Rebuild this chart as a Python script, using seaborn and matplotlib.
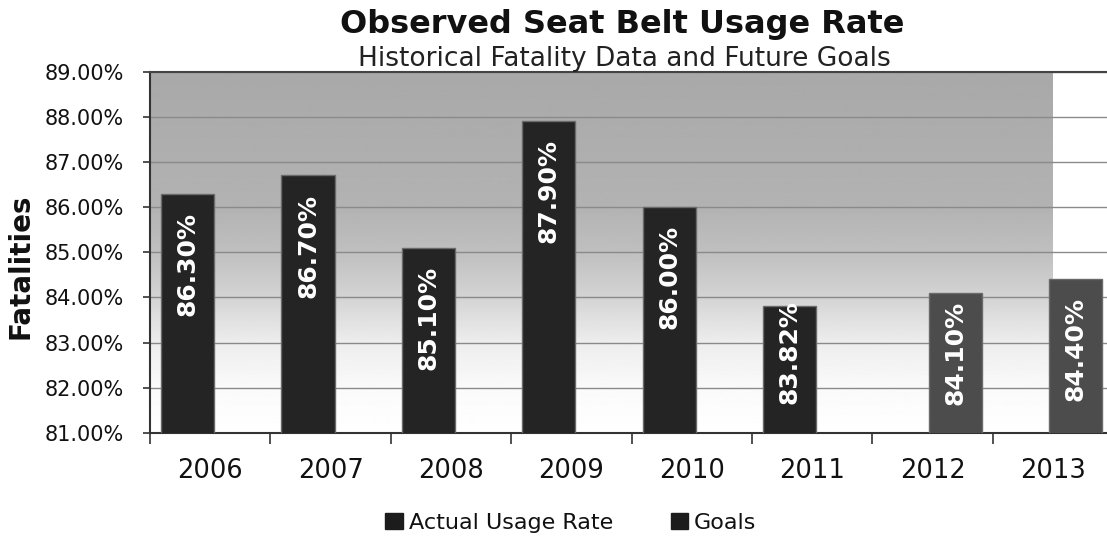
import numpy as np
import pandas as pd
import matplotlib
matplotlib.use("Agg")
import matplotlib.pyplot as plt
from matplotlib.ticker import FuncFormatter
import seaborn as sns

# Observed seat belt usage, historical values and future goals
years = ["2006", "2007", "2008", "2009", "2010", "2011", "2012", "2013"]
actual_rate = [86.30, 86.70, 85.10, 87.90, 86.00, 83.82, None, None]
goal_rate = [None, None, None, None, None, None, 84.10, 84.40]
series_names = ["Actual Usage Rate", "Goals"]

rows = []
for yr, a, g in zip(years, actual_rate, goal_rate):
    if a is not None:
        rows.append({"Year": yr, "Rate": a, "Series": series_names[0]})
    if g is not None:
        rows.append({"Year": yr, "Rate": g, "Series": series_names[1]})
df = pd.DataFrame(rows)

sns.set_theme(style="white")
plt.rcParams["font.family"] = ["DejaVu Sans"]

fig = plt.figure(figsize=(11.07, 5.46), dpi=100)
ax = fig.add_axes([0.1355, 0.207, 0.870, 0.662])

ymin, ymax = 81.0, 89.0

# grey-to-white vertical backdrop behind the bars
grad_y = np.linspace(ymin, ymax, 400)
grad_v = np.interp(grad_y, [81, 82, 83, 84, 85, 86, 89],
                   [1.00, 0.98, 0.93, 0.83, 0.75, 0.70, 0.66])
ax.imshow(grad_v[:, None], cmap="gray", vmin=0, vmax=1, aspect="auto",
          origin="lower", extent=(-0.5, 7.0, ymin, ymax), zorder=0,
          interpolation="bilinear")

sns.barplot(data=df, x="Year", y="Rate", hue="Series", order=years,
            hue_order=series_names,
            palette={series_names[0]: "#242424", series_names[1]: "#4c4c4c"},
            width=0.75, gap=-0.175, dodge=True, edgecolor="#6a6a6a",
            linewidth=1.0, ax=ax, zorder=3, saturation=1)

ax.set_xlim(-0.5, 7.5)
ax.set_ylim(ymin, ymax)
ax.set_yticks(np.arange(81, 90, 1))
ax.yaxis.set_major_formatter(FuncFormatter(lambda v, p: f"{v:.2f}%"))
ax.grid(axis="y", color="#8a8a8a", linewidth=1.0, zorder=1)
ax.set_axisbelow(True)

# value labels inside the bars
for cont, name in zip(ax.containers, series_names):
    for bar in cont:
        h = bar.get_height()
        if np.isnan(h) or h == 0:
            continue
        cx = bar.get_x() + bar.get_width() / 2
        top = max(h - 0.40, 83.93)
        ax.text(cx, top, f"{h:.2f}%", rotation=90, ha="center", va="top",
                color="white", fontsize=18, fontweight="bold", zorder=5)

# category boundary ticks below the axis
ax.set_xticks(np.arange(-0.5, 8.0, 1.0), minor=True)
ax.tick_params(axis="x", which="major", length=0, pad=18, labelsize=18.5,
               labelcolor="#111111")
ax.tick_params(axis="x", which="minor", length=8, width=1.2, color="#333333",
               bottom=True, direction="out")
ax.tick_params(axis="y", which="major", length=5, width=1.2, color="#333333",
               left=True, direction="out", pad=14, labelsize=15,
               labelcolor="#111111")
ax.set_xlabel("")
ax.set_ylabel("Fatalities", fontsize=20, fontweight="bold", color="#111111",
              labelpad=8)
ax.yaxis.set_label_coords(-0.12, 0.46)

for side in ["left", "bottom"]:
    ax.spines[side].set_color("#333333")
    ax.spines[side].set_linewidth(1.5)
ax.spines["top"].set_color("#444444")
ax.spines["top"].set_linewidth(1.5)
ax.spines["right"].set_visible(False)

sns.move_legend(ax, "center", bbox_to_anchor=(0.437, -0.249), ncol=2,
                frameon=False, title=None, fontsize=16, handlelength=0.8,
                handleheight=0.75, handletextpad=0.25, columnspacing=2.6)
leg = ax.get_legend()
for t in leg.get_texts():
    t.set_color("#111111")
for hnd in leg.legend_handles:
    hnd.set_facecolor("#1c1c1c")
    hnd.set_edgecolor("#1c1c1c")

fig.text(0.562, 0.956, "Observed Seat Belt Usage Rate", ha="center",
         va="center", fontsize=23, fontweight="bold", color="#111111")
fig.text(0.564, 0.892, "Historical Fatality Data and Future Goals",
         ha="center", va="center", fontsize=19, color="#222222")

fig.savefig("out.png", dpi=100, facecolor="white")
